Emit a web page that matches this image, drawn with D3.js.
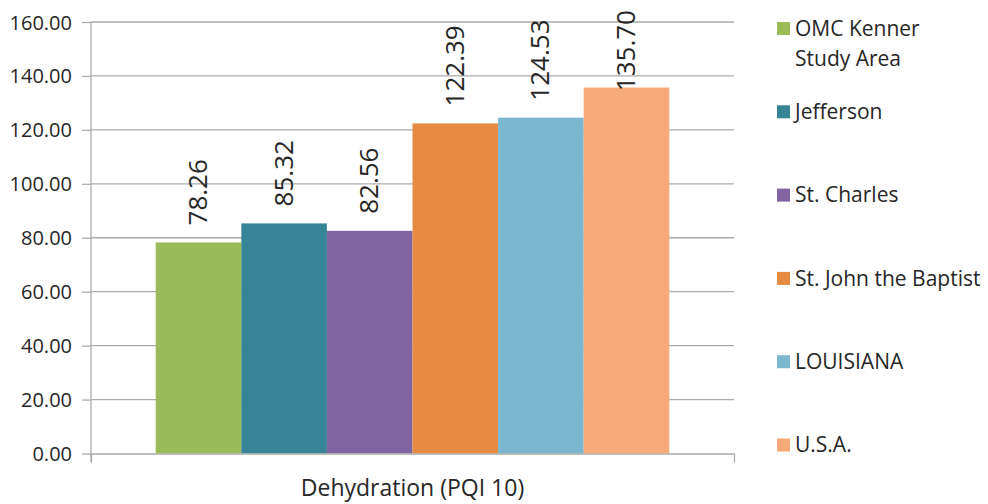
<!DOCTYPE html>
<html>
<head>
<meta charset="utf-8">
<script src="https://cdn.jsdelivr.net/npm/d3@7"></script>
<style>
  html, body { margin: 0; padding: 0; background: #fff; }
  svg { display: block; font-family: "Open Sans", "Noto Sans", sans-serif; }
</style>
</head>
<body>
<svg id="chart" width="988" height="504"></svg>
<script>
const categories = ["OMC Kenner Study Area", "Jefferson", "St. Charles", "St. John the Baptist", "LOUISIANA", "U.S.A."];
const legendLines = [["OMC Kenner", "Study Area"], ["Jefferson"], ["St. Charles"], ["St. John the Baptist"], ["LOUISIANA"], ["U.S.A."]];
const values = [78.26, 85.32, 82.56, 122.39, 124.53, 135.70];
const colors = ["#9BBB59", "#378497", "#8064A2", "#E68B41", "#7BB8CF", "#F7A977"];
const yTicks = [0, 20, 40, 60, 80, 100, 120, 140, 160];
const xLabel = "Dehydration (PQI 10)";

(function () {
const svg = d3.select("#chart");
const mLeft = 91, mRight = 734, mTop = 22, mBottom = 453.5;
const textColor = "#262626";
const gridColor = "#ABABAB";

const y = d3.scaleLinear().domain([0, 160]).range([mBottom, mTop]);
const x0 = d3.scaleBand().domain([xLabel]).range([mLeft, mRight]).paddingInner(0).paddingOuter(0.126);
const x1 = d3.scaleBand().domain(categories).range([x0(xLabel), x0(xLabel) + x0.bandwidth()]).padding(0);

// gridlines
svg.append("g").selectAll("line").data(yTicks.filter(d => d > 0)).join("line")
  .attr("x1", mLeft).attr("x2", mRight)
  .attr("y1", d => y(d)).attr("y2", d => y(d))
  .attr("stroke", gridColor).attr("stroke-width", 1.3);

// bars
svg.append("g").selectAll("rect").data(values).join("rect")
  .attr("x", (d, i) => x1(categories[i]))
  .attr("width", x1.bandwidth())
  .attr("y", d => y(d))
  .attr("height", d => y(0) - y(d))
  .attr("fill", (d, i) => colors[i]);

// y axis
const yAxis = d3.axisLeft(y).tickValues(yTicks).tickFormat(d3.format(".2f")).tickSize(9).tickSizeOuter(0);
const gy = svg.append("g").attr("transform", `translate(${mLeft},0)`).call(yAxis);
gy.select(".domain").attr("stroke", gridColor).attr("stroke-width", 1.3)
  .attr("d", `M0,${mTop}V${mBottom + 9}`);
gy.selectAll(".tick line").attr("stroke", gridColor).attr("stroke-width", 1.3);
gy.selectAll(".tick text").attr("fill", textColor).attr("font-size", 20)
  .attr("x", -19).attr("dy", "0.35em")
  .style("font-family", '"Open Sans", sans-serif');

// x axis
const xAxis = d3.axisBottom(x0).tickValues([]).tickSizeOuter(9);
const gx = svg.append("g").attr("transform", `translate(0,${mBottom})`).call(xAxis);
gx.select(".domain").attr("stroke", gridColor).attr("stroke-width", 1.3);
svg.append("text")
  .attr("x", (mLeft + mRight) / 2).attr("y", 496)
  .attr("text-anchor", "middle").attr("fill", textColor).attr("font-size", 23)
  .text(xLabel);

// data labels
const labels = svg.append("g").selectAll("text").data(values).join("text")
  .attr("fill", textColor).attr("font-size", 26)
  .attr("text-anchor", "start").attr("dominant-baseline", "central")
  .text(d => d3.format(".2f")(d));
labels.each(function(d, i) {
  const len = this.getComputedTextLength();
  const cx = x1(categories[i]) + x1.bandwidth() / 2 - 1.5;
  const yb = Math.max(y(d) - 17, 10 + len);
  d3.select(this).attr("transform", `translate(${cx},${yb}) rotate(-90)`);
});

// legend
const legendY0 = 28.5, legendStep = 83.3;
const lg = svg.append("g").selectAll("g").data(categories).join("g")
  .attr("transform", (d, i) => `translate(777,${legendY0 + i * legendStep})`);
lg.append("rect").attr("x", 0).attr("y", -6.5).attr("width", 13).attr("height", 13)
  .attr("fill", (d, i) => colors[i]);
lg.each(function(d, i) {
  const t = d3.select(this).append("text").attr("fill", textColor).attr("font-size", 21);
  legendLines[i].forEach((ln, k) => {
    t.append("tspan").attr("x", 18).attr("y", k * 30).attr("dy", "0.35em").text(ln);
  });
});
})();
</script>
</body>
</html>
